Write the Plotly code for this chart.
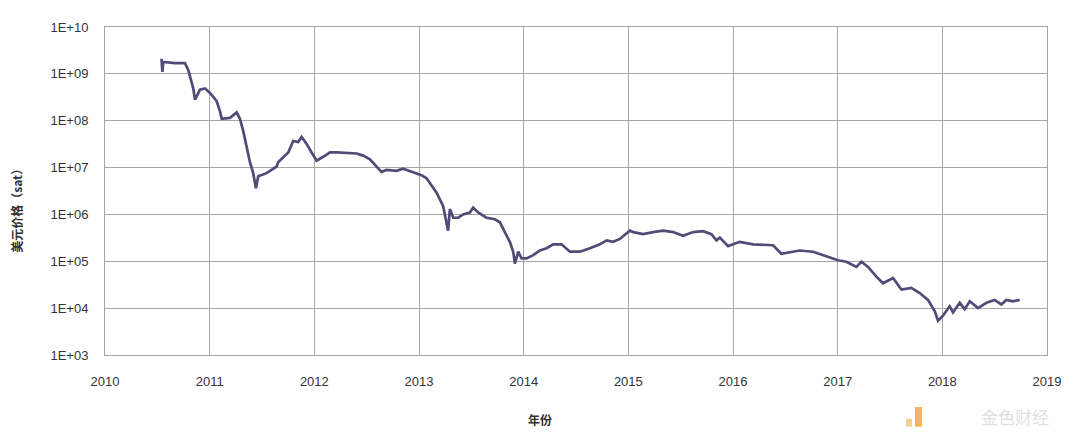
import plotly.graph_objects as go

# Decimal year of each sampled point
years = [2010.540, 2010.548, 2010.557, 2010.669, 2010.764, 2010.796, 2010.843, 2010.860,
         2010.907, 2010.955, 2011.003, 2011.067, 2011.098, 2011.115, 2011.194, 2011.258,
         2011.289, 2011.321, 2011.353, 2011.385, 2011.416, 2011.442, 2011.464, 2011.544,
         2011.591, 2011.639, 2011.654, 2011.703, 2011.751, 2011.798, 2011.846, 2011.879,
         2011.926, 2011.974, 2012.022, 2012.085, 2012.149, 2012.213, 2012.404, 2012.467,
         2012.531, 2012.595, 2012.642, 2012.690, 2012.785, 2012.848, 2012.944, 2013.024,
         2013.072, 2013.168, 2013.231, 2013.263, 2013.278, 2013.295, 2013.327, 2013.374,
         2013.422, 2013.486, 2013.517, 2013.565, 2013.645, 2013.725, 2013.773, 2013.820,
         2013.868, 2013.900, 2013.916, 2013.948, 2013.980, 2014.028, 2014.091, 2014.155,
         2014.219, 2014.282, 2014.362, 2014.442, 2014.537, 2014.633, 2014.728, 2014.792,
         2014.855, 2014.919, 2015.014, 2015.046, 2015.142, 2015.237, 2015.333, 2015.428,
         2015.523, 2015.619, 2015.714, 2015.794, 2015.842, 2015.874, 2015.953, 2016.000,
         2016.065, 2016.192, 2016.383, 2016.462, 2016.637, 2016.765, 2016.924, 2017.003,
         2017.083, 2017.179, 2017.227, 2017.290, 2017.370, 2017.433, 2017.529, 2017.609,
         2017.704, 2017.784, 2017.863, 2017.927, 2017.959, 2018.006, 2018.070, 2018.102,
         2018.166, 2018.214, 2018.262, 2018.341, 2018.421, 2018.500, 2018.564, 2018.611,
         2018.675, 2018.739]

# Price in satoshi per US dollar
price_sat = [2.1e9, 1.1e9, 1.8e9, 1.7e9, 1.7e9, 1.2e9, 4.9e8, 2.8e8,
             4.6e8, 4.9e8, 3.9e8, 2.6e8, 1.6e8, 1.1e8, 1.15e8, 1.5e8,
             1.1e8, 6.0e7, 2.8e7, 1.3e7, 7.6e6, 3.6e6, 6.5e6, 7.6e6,
             8.9e6, 1.05e7, 1.3e7, 1.7e7, 2.1e7, 3.7e7, 3.5e7, 4.5e7,
             3.2e7, 2.1e7, 1.4e7, 1.7e7, 2.1e7, 2.1e7, 2.0e7, 1.8e7,
             1.5e7, 1.05e7, 8.1e6, 8.9e6, 8.5e6, 9.5e6, 8.1e6, 6.9e6,
             5.9e6, 2.9e6, 1.5e6, 7.2e5, 4.5e5, 1.3e6, 8.5e5, 8.5e5,
             1.0e6, 1.1e6, 1.4e6, 1.1e6, 8.5e5, 7.9e5, 6.8e5, 4.2e5,
             2.6e5, 1.6e5, 8.9e4, 1.6e5, 1.15e5, 1.15e5, 1.35e5, 1.7e5,
             1.9e5, 2.3e5, 2.3e5, 1.6e5, 1.6e5, 1.9e5, 2.3e5, 2.8e5,
             2.6e5, 3.0e5, 4.5e5, 4.2e5, 3.8e5, 4.2e5, 4.5e5, 4.2e5,
             3.5e5, 4.2e5, 4.4e5, 3.8e5, 2.8e5, 3.2e5, 2.1e5, 2.3e5,
             2.6e5, 2.3e5, 2.2e5, 1.45e5, 1.7e5, 1.6e5, 1.2e5, 1.05e5,
             9.8e4, 7.6e4, 9.8e4, 7.6e4, 4.7e4, 3.4e4, 4.4e4, 2.5e4,
             2.7e4, 2.1e4, 1.5e4, 8.7e3, 5.4e3, 6.9e3, 1.1e4, 8.1e3,
             1.3e4, 9.5e3, 1.4e4, 1.0e4, 1.3e4, 1.5e4, 1.2e4, 1.5e4,
             1.4e4, 1.5e4]

x_ticks = [2010, 2011, 2012, 2013, 2014, 2015, 2016, 2017, 2018, 2019]
y_tickvals = [1e3, 1e4, 1e5, 1e6, 1e7, 1e8, 1e9, 1e10]
y_ticktext = ["1E+03", "1E+04", "1E+05", "1E+06", "1E+07", "1E+08", "1E+09", "1E+10"]

fig = go.Figure()
fig.add_trace(go.Scatter(
    x=years, y=price_sat, mode="lines",
    line=dict(color="#544a78", width=2.7),
    showlegend=False,
))

x_tick_font = dict(family="Liberation Sans Narrow, Liberation Sans, Arial, sans-serif", size=13, color="#333333")
y_tick_font = dict(family="Liberation Sans, Arial, sans-serif", size=13, color="#333333")

# The page body adds an 8px offset; margins compensate so the plot area sits at
# x 105..1047, y 21..355 in the screenshot.
fig.update_layout(
    width=1081, height=435,
    margin=dict(l=97, r=42, t=13, b=88),
    paper_bgcolor="white", plot_bgcolor="white",
    xaxis=dict(
        range=[2010, 2019], tickvals=x_ticks, ticktext=[str(v) for v in x_ticks],
        showgrid=True, gridcolor="#a6a6a6", gridwidth=1,
        showline=True, linecolor="#a6a6a6", mirror=True,
        zeroline=False, ticks="", tickfont=x_tick_font, ticklabelstandoff=14,
    ),
    yaxis=dict(
        type="log", range=[3, 10], tickvals=y_tickvals, ticktext=y_ticktext,
        showgrid=True, gridcolor="#a6a6a6", gridwidth=1,
        showline=True, linecolor="#a6a6a6", mirror=True,
        zeroline=False, ticks="", tickfont=y_tick_font, ticklabelstandoff=13,
    ),
    annotations=[
        dict(text="<b>年份</b>", xref="paper", yref="paper", x=(540 - 105) / 942, y=-(421 - 355) / 334,
             showarrow=False, xanchor="center", yanchor="middle",
             font=dict(family="Noto Sans CJK SC", size=12, color="#303030")),
        dict(text="<b>美元价格（sat）</b>", xref="paper", yref="paper", x=-(105 - 17) / 942,
             y=(355 - 205) / 334, textangle=-90, showarrow=False,
             xanchor="center", yanchor="middle",
             font=dict(family="Noto Sans CJK SC", size=12, color="#303030")),
        dict(text="金色财经", xref="paper", yref="paper", x=(1015 - 105) / 942,
             y=-(418 - 355) / 334, showarrow=False, xanchor="center", yanchor="middle",
             font=dict(family="Noto Sans CJK SC", size=17, color="#e0e0e0")),
    ],
    shapes=[
        dict(type="rect", xref="paper", yref="paper",
             x0=(915 - 105) / 942, x1=(922 - 105) / 942,
             y0=-(428 - 355) / 334, y1=-(408 - 355) / 334,
             fillcolor="#f0b650", line=dict(width=0)),
        dict(type="rect", xref="paper", yref="paper",
             x0=(906 - 105) / 942, x1=(912 - 105) / 942,
             y0=-(428 - 355) / 334, y1=-(420 - 355) / 334,
             fillcolor="#f5d08a", line=dict(width=0)),
    ],
)

fig.write_html("out.html")
